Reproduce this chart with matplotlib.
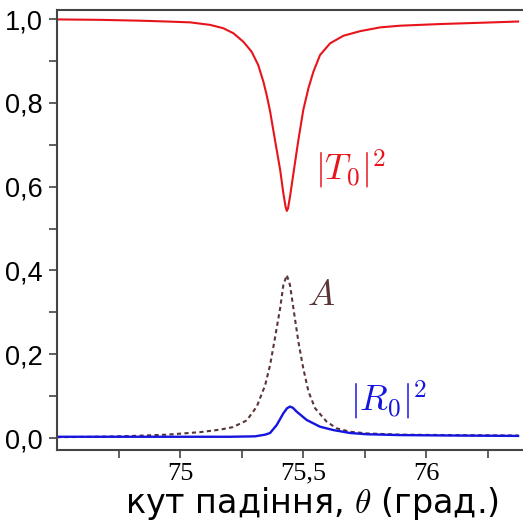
import matplotlib
matplotlib.use("Agg")
import matplotlib.pyplot as plt
from matplotlib.ticker import MultipleLocator, FixedLocator, FuncFormatter

plt.rcParams["mathtext.fontset"] = "cm"

# transmission |T0|^2 vs incidence angle (deg)
theta_t = [74.500, 74.675, 74.837, 74.947, 75.041, 75.122, 75.176, 75.217,
           75.257, 75.291, 75.318, 75.339, 75.352, 75.366, 75.386, 75.407,
           75.420, 75.429, 75.434, 75.439, 75.447, 75.463, 75.481, 75.501,
           75.522, 75.542, 75.569, 75.610, 75.664, 75.732, 75.813, 75.894,
           76.057, 76.220, 76.374]
trans = [0.999, 0.998, 0.996, 0.994, 0.992, 0.986, 0.978, 0.966,
         0.946, 0.922, 0.890, 0.850, 0.819, 0.780, 0.711, 0.640,
         0.584, 0.552, 0.542, 0.548, 0.576, 0.640, 0.711, 0.783,
         0.835, 0.874, 0.914, 0.942, 0.960, 0.971, 0.980, 0.984,
         0.988, 0.991, 0.994]

# absorption A
theta_a = [74.500, 74.675, 74.809, 74.947, 75.081, 75.163, 75.215, 75.271,
           75.312, 75.346, 75.366, 75.386, 75.407, 75.420, 75.434, 75.447,
           75.461, 75.481, 75.501, 75.522, 75.549, 75.596, 75.637, 75.691,
           75.759, 75.894, 76.098, 76.374]
absorb = [0.002, 0.003, 0.005, 0.008, 0.014, 0.020, 0.026, 0.042,
          0.075, 0.126, 0.174, 0.239, 0.310, 0.365, 0.389, 0.365,
          0.309, 0.230, 0.166, 0.111, 0.071, 0.039, 0.023, 0.015,
          0.011, 0.008, 0.007, 0.006]

# reflection |R0|^2
theta_r = [74.500, 74.878, 75.203, 75.305, 75.346, 75.366, 75.393, 75.420,
           75.435, 75.447, 75.459, 75.474, 75.515, 75.569, 75.623, 75.691,
           75.759, 75.894, 76.098, 76.374]
refl = [0.003, 0.003, 0.003, 0.004, 0.008, 0.012, 0.031, 0.059,
        0.071, 0.075, 0.072, 0.063, 0.043, 0.027, 0.019, 0.012,
        0.009, 0.007, 0.006, 0.005]

x_labels = {75.0: "75", 75.5: "75,5", 76.0: "76"}

fig = plt.figure(figsize=(5.23, 5.22), dpi=100)
ax = fig.add_axes([57 / 523, 1 - 450 / 522, 466 / 523, 440 / 522])

ax.plot(theta_t, trans, color="#e8141c", lw=1.5)
ax.plot(theta_a, absorb, color="#5a3535", lw=1.5, linestyle=(0, (2.0, 1.6)))
ax.plot(theta_r, refl, color="#1515dd", lw=1.7)

ax.set_xlim(74.5, 76.394)
ax.set_ylim(-0.0286, 1.0215)

ax.text(75.549, 0.642, r"$|T_0|^2$", color="#e8141c", fontsize=26,
        ha="left", va="center")
ax.text(75.516, 0.341, r"$A$", color="#5a3535", fontsize=26,
        ha="left", va="center")
ax.text(75.69, 0.090, r"$|R_0|^2$", color="#1515dd", fontsize=26,
        ha="left", va="center")

for side in ("top", "left", "bottom"):
    ax.spines[side].set_color("#444444")
    ax.spines[side].set_linewidth(1.5)
ax.spines["right"].set_visible(False)

ax.yaxis.set_major_locator(MultipleLocator(0.2))
ax.yaxis.set_minor_locator(MultipleLocator(0.1))
ax.yaxis.set_major_formatter(FuncFormatter(lambda v, p: f"{v:.1f}".replace(".", ",")))
ax.xaxis.set_major_locator(FixedLocator(list(x_labels)))
ax.xaxis.set_minor_locator(FixedLocator([74.75, 75.25, 75.75, 76.25]))
ax.xaxis.set_major_formatter(FuncFormatter(lambda v, p: x_labels.get(round(v, 2), "")))

ax.tick_params(axis="both", which="both", direction="out", color="#444444",
               width=1.2, length=6)
ax.tick_params(axis="y", labelsize=19.5, pad=4)
ax.tick_params(axis="x", labelsize=19, pad=3)
for lab in ax.get_yticklabels():
    lab.set_family("Liberation Sans")
for lab in ax.get_xticklabels():
    lab.set_family("Liberation Serif")

ax.set_xlabel(r"кут падіння, $\theta$ (град.)", fontsize=24,
              family="DejaVu Sans")
ax.xaxis.set_label_coords(0.547, -0.079)

fig.savefig("out.png", dpi=100)
